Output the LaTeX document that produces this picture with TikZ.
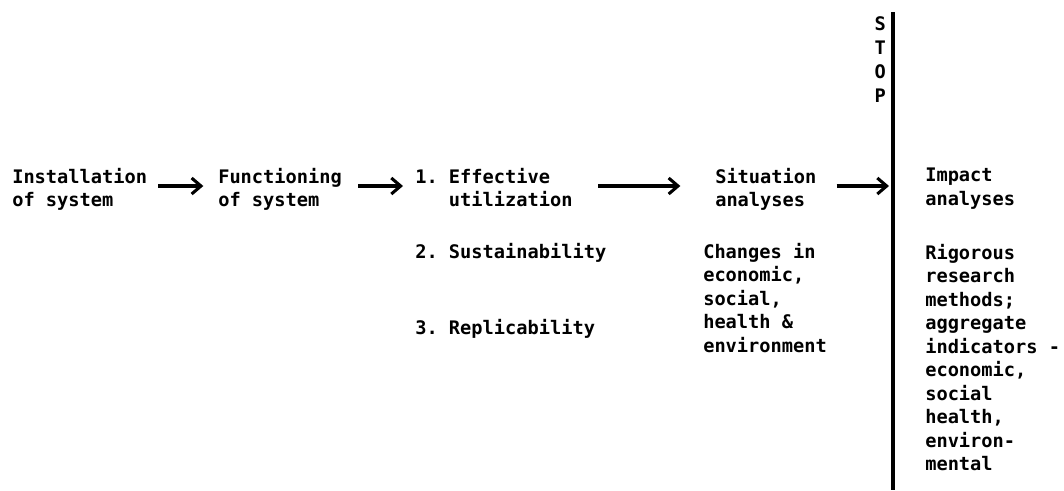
\documentclass[tikz,border=0pt]{standalone}
\usepackage{fontspec}
\setmonofont{DejaVu Sans Mono}
\usetikzlibrary{positioning, arrows.meta}

\begin{document}
\begin{tikzpicture}[x=0.75pt, y=-0.75pt]

    % Styles
    \tikzset{
        stage/.style={
            inner sep=0pt, anchor=north west, align=left,
            font=\ttfamily\bfseries\fontsize{14}{17.6}\selectfont
        },
        stopword/.style={
            inner sep=0pt, anchor=north east, align=center,
            font=\ttfamily\bfseries\fontsize{14}{18.2}\selectfont
        },
        flow/.style={line width=2.3pt, -{Straight Barb[length=7pt, width=12pt, line width=2.3pt]}},
        stopline/.style={line width=2.3pt}
    }

    \useasboundingbox (0,0) rectangle (1064,490);

    % Row the arrows run along
    \coordinate (flow) at (0,186);

    % Stages
    \node (inst) [stage] at (12,168) {Installation\\of system};
    \node (func) [stage] at (218,168) {Functioning\\of system};
    \node (eff)  [stage] at (415,168) {1. Effective\\\phantom{1. }utilization};
    \node (sus)  [stage] at (415,243) {2. Sustainability};
    \node (rep)  [stage] at (415,319) {3. Replicability};
    \node (sit)  [stage] at (715,168) {Situation\\analyses};
    \node (chg)  [stage] at (703,243) {Changes in\\economic,\\social,\\health \&\\environment};
    \node (imp)  [stage] at (925,168) {Impact\\analyses};
    \node (rig)  [stage] at (925,244) {Rigorous\\research\\methods;\\aggregate\\indicators -\\economic,\\social\\health,\\environ-\\mental};

    % Stop barrier
    \coordinate (stoptop) at (893,12);
    \coordinate (stopbot) at (893,490);
    \node (stop) [stopword] at (886,16) {S\\T\\O\\P};
    \draw[stopline] (stoptop) -- (stopbot);

    % Arrows between stages
    \draw[flow, shorten <=8pt, shorten >=11pt] (inst.east |- flow) -- (func.west |- flow);
    \draw[flow, shorten <=12pt, shorten >=9pt] (func.east |- flow) -- (eff.west |- flow);
    \draw[flow, shorten <=19pt, shorten >=26pt] (eff.east |- flow) -- (sit.west |- flow);
    \draw[flow, shorten <=15pt, shorten >=3pt] (sit.east |- flow) -- (stoptop |- flow);

\end{tikzpicture}
\end{document}
